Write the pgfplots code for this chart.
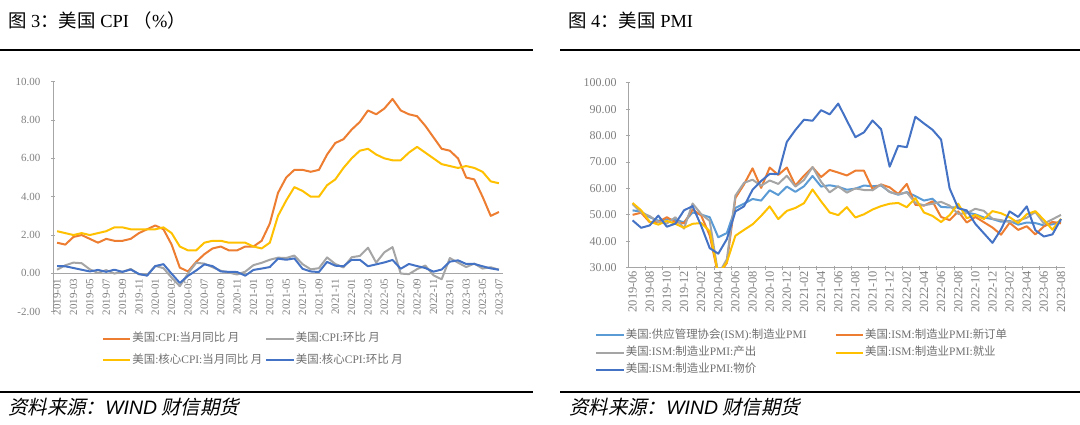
\documentclass[border=0pt]{standalone}
\usepackage{fontspec}
\setmainfont{Liberation Serif}
\newfontfamily\cjk{Noto Sans CJK SC}
\newfontfamily\cjkit{Noto Sans CJK SC}[FakeSlant=0.22]
\newfontfamily\lsans{Liberation Sans}
\usepackage{pgfplots}
\usepackage{pgfplotstable}
\pgfplotsset{compat=1.18}
\newcommand\C[1]{{\cjk #1}}
\definecolor{cOrange}{HTML}{ED7D31}
\definecolor{cGray}{HTML}{A5A5A5}
\definecolor{cYellow}{HTML}{FFC000}
\definecolor{cBlue}{HTML}{4472C4}
\definecolor{cLBlue}{HTML}{5B9BD5}
\definecolor{axisgray}{HTML}{A6A6A6}
\definecolor{tickgray}{HTML}{7F7F7F}
\definecolor{leggray}{HTML}{707070}

\pgfplotstableread{
x cpi core cpimom coremom
0 1.6 2.2 0.19 0.38
1 1.5 2.1 0.42 0.37
2 1.9 2.0 0.56 0.28
3 2.0 2.1 0.53 0.19
4 1.8 2.0 0.21 0.10
5 1.6 2.1 0.02 0.18
6 1.8 2.2 0.17 0.08
7 1.7 2.4 -0.01 0.19
8 1.7 2.4 0.08 0.08
9 1.8 2.3 0.23 0.20
10 2.1 2.3 -0.05 -0.03
11 2.3 2.3 -0.09 -0.12
12 2.5 2.3 0.39 0.38
13 2.3 2.4 0.27 0.48
14 1.5 2.1 -0.22 -0.02
15 0.3 1.4 -0.67 -0.50
16 0.1 1.2 0.00 -0.13
17 0.6 1.2 0.55 0.15
18 1.0 1.6 0.51 0.47
19 1.3 1.7 0.32 0.38
20 1.4 1.7 0.14 0.10
21 1.2 1.6 0.04 0.08
22 1.2 1.6 -0.06 0.07
23 1.4 1.6 0.09 -0.12
24 1.4 1.4 0.43 0.18
25 1.7 1.3 0.55 0.25
26 2.6 1.6 0.71 0.33
27 4.2 3.0 0.82 0.77
28 5.0 3.8 0.80 0.71
29 5.4 4.5 0.93 0.78
30 5.4 4.3 0.48 0.24
31 5.3 4.0 0.21 0.10
32 5.4 4.0 0.27 0.07
33 6.2 4.6 0.83 0.60
34 6.8 4.9 0.49 0.40
35 7.0 5.5 0.31 0.37
36 7.5 6.0 0.84 0.71
37 7.9 6.4 0.91 0.71
38 8.5 6.5 1.34 0.37
39 8.3 6.2 0.56 0.47
40 8.6 6.0 1.10 0.57
41 9.1 5.9 1.37 0.70
42 8.5 5.9 -0.01 0.24
43 8.3 6.3 -0.04 0.49
44 8.2 6.6 0.22 0.38
45 7.7 6.3 0.41 0.28
46 7.1 6.0 -0.10 0.09
47 6.5 5.7 -0.31 0.20
48 6.4 5.6 0.80 0.61
49 6.0 5.5 0.56 0.68
50 5.0 5.6 0.33 0.49
51 4.9 5.5 0.51 0.49
52 4.0 5.3 0.25 0.37
53 3.0 4.8 0.32 0.26
54 3.2 4.7 0.19 0.19
}\cpitable

\pgfplotstableread{
x pmi neword prod emp price
0 51.7 50.0 54.1 54.5 47.9
1 51.2 50.8 50.8 51.7 45.1
2 49.1 47.2 49.5 47.4 46.0
3 47.8 47.3 47.3 46.3 49.7
4 48.3 49.1 46.7 47.7 45.5
5 48.1 47.2 49.1 46.6 46.7
6 47.2 46.8 44.8 45.1 51.7
7 50.9 52.0 54.3 46.6 53.3
8 50.1 49.8 50.3 46.9 45.9
9 49.1 42.2 47.7 43.8 37.4
10 41.5 27.1 27.5 27.5 35.3
11 43.1 31.8 33.2 32.1 40.8
12 52.6 56.4 57.3 42.1 51.3
13 54.2 61.5 62.1 44.3 53.2
14 56.0 67.6 63.3 46.4 59.5
15 55.4 60.2 61.0 49.6 62.8
16 59.3 67.9 63.0 53.2 65.5
17 57.5 65.1 61.7 48.4 65.4
18 60.7 67.9 64.8 51.5 77.6
19 58.7 61.1 60.7 52.6 82.1
20 60.8 64.8 63.2 54.4 86.0
21 64.7 68.0 68.1 59.6 85.6
22 60.7 64.3 62.5 55.1 89.6
23 61.2 67.0 58.5 50.9 88.0
24 60.6 66.0 60.8 49.9 92.1
25 59.5 64.9 58.4 52.9 85.7
26 59.9 66.7 60.0 49.0 79.4
27 61.1 66.7 59.4 50.2 81.2
28 60.8 59.8 59.3 52.0 85.7
29 61.1 61.5 61.5 53.3 82.4
30 58.7 60.4 58.6 54.2 68.2
31 57.6 57.9 57.8 54.5 76.1
32 58.6 61.7 58.5 52.9 75.6
33 57.1 53.8 54.5 56.3 87.1
34 55.4 53.5 53.6 50.9 84.6
35 56.1 55.1 54.2 49.6 82.2
36 53.0 49.2 54.9 47.3 78.5
37 52.8 48.0 53.5 49.9 60.0
38 52.8 51.3 50.4 54.2 52.5
39 50.9 47.1 50.6 48.7 51.7
40 50.2 49.2 52.3 50.0 46.6
41 49.0 47.2 51.5 48.4 43.0
42 48.4 45.2 48.5 51.4 39.4
43 47.4 42.5 48.0 50.6 44.5
44 47.7 47.0 47.3 49.1 51.3
45 46.3 44.3 47.8 46.9 49.2
46 47.1 45.7 48.9 50.2 53.2
47 46.9 42.6 51.1 51.4 44.2
48 46.0 45.6 46.7 48.1 41.8
49 46.4 47.3 48.3 44.4 42.6
50 47.6 46.8 50.0 48.5 48.4
}\pmitable

\pgfplotsset{
  common/.style={
    scale only axis,
    hide obscured x ticks=false,
    hide obscured y ticks=false,
    tick align=outside,
    major tick length=4bp,
    minor tick length=4bp,
    every major x tick/.append style={draw=none},
    every minor x tick/.append style={draw=axisgray, line width=0.8bp},
    ytick style={draw=axisgray, line width=0.8bp},
    x tick label style={rotate=90, anchor=east, text=tickgray, inner sep=0pt},
    y tick label style={text=tickgray, inner sep=0pt},
    /pgf/number format/fixed,
    /pgf/number format/fixed zerofill,
    /pgf/number format/precision=2,
    /pgf/number format/assume math mode=true,
    legend cell align=left,
    legend columns=2,
    legend image code/.code={\draw[##1] (0bp,0bp) -- (27.6bp,0bp);},
    every axis plot/.append style={line width=2bp, line join=round, no markers},
  },
  noarrows/.style={
    axis line style={draw=axisgray, line width=0.8bp},
    every outer x axis line/.append style={-, draw=axisgray},
    every outer y axis line/.append style={-, draw=axisgray},
    every inner x axis line/.append style={-, draw=axisgray},
    every inner y axis line/.append style={-, draw=axisgray},
  }
}

\begin{document}
\begin{tikzpicture}
% left chart
\begin{axis}[common,
  at={(53bp,113.3bp)}, anchor=south west, width=450bp, height=230bp,
  xmin=-0.5, xmax=54.5, ymin=-2, ymax=10,
  axis x line=middle, axis y line=left, noarrows,
  xtick={0,2,...,54},
  xticklabels={2019-01,2019-03,2019-05,2019-07,2019-09,2019-11,2020-01,2020-03,2020-05,2020-07,2020-09,2020-11,2021-01,2021-03,2021-05,2021-07,2021-09,2021-11,2022-01,2022-03,2022-05,2022-07,2022-09,2022-11,2023-01,2023-03,2023-05,2023-07},
  ytick={-2,0,...,10},
  x tick label style={font=\fontsize{11}{12}\selectfont},
  y tick label style={font=\fontsize{11}{12}\selectfont},
  xticklabel shift=3bp,
  yticklabel shift=10.5bp,
  legend style={at={(0.108,-0.088)}, anchor=north west, draw=none, fill=none, inner sep=0pt,
    font=\fontsize{11.5}{13}\selectfont, text=leggray, row sep=8.5bp,
    nodes={inner sep=1bp, text height=8.5bp, text depth=2.5bp},
    /tikz/every even column/.append style={column sep=2bp}},
]
\addplot[cOrange] table[x=x, y=cpi] {\cpitable};
\addlegendentry{\C{美国}:CPI:\C{当月同比 月}}
\addplot[cGray] table[x=x, y=cpimom] {\cpitable};
\addlegendentry{\C{美国}:CPI:\C{环比 月}}
\addplot[cYellow] table[x=x, y=core] {\cpitable};
\addlegendentry{\C{美国}:\C{核心}CPI:\C{当月同比 月}}
\addplot[cBlue] table[x=x, y=coremom] {\cpitable};
\addlegendentry{\C{美国}:\C{核心}CPI:\C{环比 月}}
\end{axis}

% right chart
\begin{axis}[common,
  at={(628.3bp,157.3bp)}, anchor=south west, width=437bp, height=185bp,
  xmin=-0.5, xmax=50.5, ymin=30, ymax=100,
  axis x line=bottom, axis y line=left, noarrows,
  xtick={0,2,...,50},
  minor xtick={1.5,3.5,...,49.5},
  xticklabels={2019-06,2019-08,2019-10,2019-12,2020-02,2020-04,2020-06,2020-08,2020-10,2020-12,2021-02,2021-04,2021-06,2021-08,2021-10,2021-12,2022-02,2022-04,2022-06,2022-08,2022-10,2022-12,2023-02,2023-04,2023-06,2023-08},
  ytick={30,40,...,100},
  x tick label style={font=\fontsize{12.5}{13}\selectfont},
  y tick label style={font=\fontsize{12}{13}\selectfont},
  xticklabel shift=1bp,
  yticklabel shift=9.5bp,
  legend style={at={(-0.0762,-0.33)}, anchor=north west, draw=none, fill=none, inner sep=0pt,
    font=\fontsize{11.5}{13}\selectfont, text=leggray, row sep=4.2bp,
    nodes={inner sep=1bp, text height=8.5bp, text depth=2.5bp},
    /tikz/every even column/.append style={column sep=27bp}},
]
\addplot[cLBlue] table[x=x, y=pmi] {\pmitable};
\addlegendentry{\C{美国}:\C{供应管理协会}(ISM):\C{制造业}PMI}
\addplot[cOrange] table[x=x, y=neword] {\pmitable};
\addlegendentry{\C{美国}:ISM:\C{制造业}PMI:\C{新订单}}
\addplot[cGray] table[x=x, y=prod] {\pmitable};
\addlegendentry{\C{美国}:ISM:\C{制造业}PMI:\C{产出}}
\addplot[cYellow] table[x=x, y=emp] {\pmitable};
\addlegendentry{\C{美国}:ISM:\C{制造业}PMI:\C{就业}}
\addplot[cBlue] table[x=x, y=price] {\pmitable};
\addlegendentry{\C{美国}:ISM:\C{制造业}PMI:\C{物价}}
\end{axis}

\begin{scope}[x=1bp,y=1bp]
% titles and rules
\node[anchor=base west, inner sep=0pt, font=\fontsize{18.5}{20}\selectfont] at (8,397.5) {\C{图} 3\C{：美国} CPI \C{（}\%\C{）}};
\node[anchor=base west, inner sep=0pt, font=\fontsize{18.5}{20}\selectfont] at (568,397.5) {\C{图} 4\C{：美国} PMI};
\draw[line width=2bp] (0,375) -- (533,375);
\draw[line width=2bp] (560,375) -- (1080,375);
\draw[line width=2bp] (0,33) -- (533,33);
\draw[line width=2bp] (560,33) -- (1080,33);
\node[anchor=base west, inner sep=0pt, font=\fontsize{19.5}{21}\selectfont] at (8,11) {\cjkit 资料来源：{\lsans\itshape WIND} 财信期货};
\node[anchor=base west, inner sep=0pt, font=\fontsize{19.5}{21}\selectfont] at (569,11) {\cjkit 资料来源：{\lsans\itshape WIND} 财信期货};
\end{scope}

\pgfresetboundingbox
\path[use as bounding box] (0bp,0bp) rectangle (1080bp,425bp);
\end{tikzpicture}
\end{document}
